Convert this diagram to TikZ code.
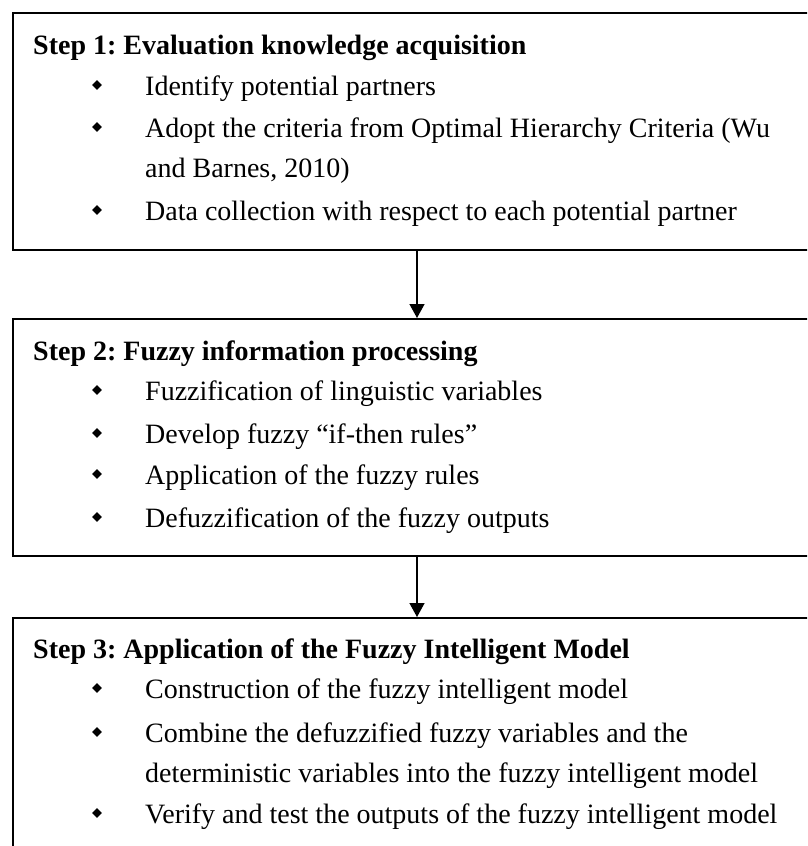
\documentclass[tikz,border=0pt]{standalone}
\usepackage{fontspec}
\setmainfont{Liberation Serif}
\usetikzlibrary{positioning}
\usetikzlibrary{shapes.geometric}
\usetikzlibrary{arrows.meta}

\tikzset{
  stepbox/.style={draw, line width=2pt, minimum width=808pt, minimum height=237pt, anchor=north west, inner sep=0pt},
  bul/.style={diamond, fill, inner sep=0pt, minimum size=10pt},
  txt/.style={anchor=base west, inner sep=0pt},
  head/.style={txt, font=\fontsize{28}{32}\selectfont\bfseries},
  flow/.style={-{Triangle[width=15pt,length=14pt]}, line width=1.4pt},
}

\begin{document}
\frenchspacing
\begin{tikzpicture}[x=1pt,y=-1pt,font=\fontsize{28}{32}\selectfont]
    \useasboundingbox (0,0) rectangle (807,846);
    \clip (0,0) rectangle (807,846);

    % step 1
    \node[stepbox] (s1) at (12,12) {};
    \node[head] (h1) at (33,54) {Step 1: Evaluation knowledge acquisition};
    \foreach \y/\lab in {95/{Identify potential partners},
                         137/{Adopt the criteria from Optimal Hierarchy Criteria (Wu},
                         177/{and Barnes, 2010)},
                         220/{Data collection with respect to each potential partner}}{
        \node[txt] (l1-\y) at (145,\y) {\lab};
    }
    \foreach \y in {95,137,220}{
        \node[bul] (d1-\y) at (97,{\y-10}) {};
    }

    % step 2
    \node[stepbox] (s2) at (12,318) {};
    \node[head] (h2) at (33,360) {Step 2: Fuzzy information processing};
    \foreach \y/\lab in {400/{Fuzzification of linguistic variables},
                         443/{Develop fuzzy ``if-then rules''},
                         484/{Application of the fuzzy rules},
                         527/{Defuzzification of the fuzzy outputs}}{
        \node[txt] (l2-\y) at (145,\y) {\lab};
        \node[bul] (d2-\y) at (97,{\y-10}) {};
    }

    % step 3
    \node[stepbox, minimum height=300pt] (s3) at (12,617) {};
    \node[head] (h3) at (33,658) {Step 3: Application of the Fuzzy Intelligent Model};
    \foreach \y/\lab in {698/{Construction of the fuzzy intelligent model},
                         742/{Combine the defuzzified fuzzy variables and the},
                         782/{deterministic variables into the fuzzy intelligent model},
                         823/{Verify and test the outputs of the fuzzy intelligent model}}{
        \node[txt] (l3-\y) at (145,\y) {\lab};
    }
    \foreach \y in {698,742,823}{
        \node[bul] (d3-\y) at (97,{\y-10}) {};
    }

    % arrows
    \draw[flow] (s1.south) -- (s2.north);
    \draw[flow] (s2.south) -- (s3.north);
\end{tikzpicture}
\end{document}
